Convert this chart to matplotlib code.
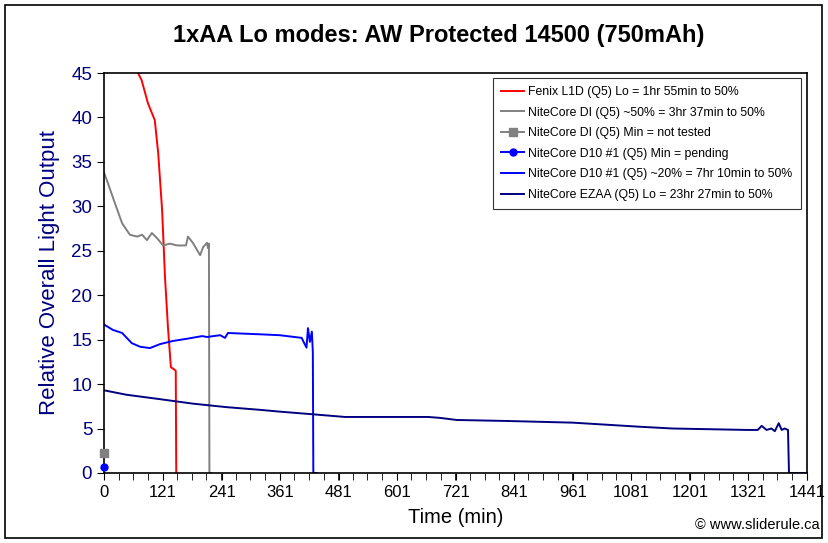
import matplotlib.pyplot as plt
from matplotlib.patches import Rectangle

plt.rcParams['font.family'] = ['Liberation Sans', 'DejaVu Sans']

# Fenix L1D (Q5) Lo
fenix_t = [67, 77, 90, 104, 111, 119, 125, 131, 137, 145, 147, 148]
fenix_y = [45.3, 44.2, 41.6, 39.7, 36.0, 29.6, 22.0, 16.4, 11.9, 11.6, 11.5, 0]

# NiteCore DI ~50%
di_t = [0, 8, 22, 37, 53, 68, 78, 88, 98, 109, 121, 135, 150, 168, 172, 182,
        197, 203, 211, 213, 215, 216, 220]
di_y = [33.8, 32.6, 30.4, 28.1, 26.8, 26.6, 26.8, 26.2, 27.0, 26.4, 25.6, 25.8,
        25.6, 25.6, 26.6, 25.9, 24.5, 25.4, 25.9, 25.3, 25.8, 0, 0]

# NiteCore DI Min (single point)
di_min_t = [0]
di_min_y = [2.3]

# NiteCore D10 #1 Min (single point)
d10_min_t = [0]
d10_min_y = [0.65]

# NiteCore D10 #1 ~20%
d10_t = [0, 18, 37, 57, 74, 94, 115, 141, 170, 201, 211, 238, 248, 254, 320,
         360, 405, 415, 418, 422, 426, 428, 429, 436]
d10_y = [16.7, 16.1, 15.75, 14.6, 14.2, 14.05, 14.5, 14.85, 15.1, 15.4, 15.3,
         15.5, 15.2, 15.75, 15.6, 15.5, 15.2, 14.1, 16.3, 14.75, 15.9, 13.6, 0, 0]

# NiteCore EZAA Lo
ezaa_t = [0, 46, 115, 182, 252, 320, 360, 428, 494, 664, 688, 723, 825, 961,
          1098, 1166, 1262, 1317, 1340, 1348, 1358, 1368, 1375, 1383, 1389,
          1395, 1402, 1404, 1441]
ezaa_y = [9.3, 8.8, 8.3, 7.8, 7.4, 7.1, 6.9, 6.6, 6.3, 6.3, 6.2, 5.96, 5.85,
          5.66, 5.2, 5.0, 4.9, 4.84, 4.84, 5.3, 4.84, 5.0, 4.7, 5.6, 4.84,
          5.0, 4.84, 0, 0]

labels = ['Fenix L1D (Q5) Lo = 1hr 55min to 50%',
          'NiteCore DI (Q5) ~50% = 3hr 37min to 50%',
          'NiteCore DI (Q5) Min = not tested',
          'NiteCore D10 #1 (Q5) Min = pending',
          'NiteCore D10 #1 (Q5) ~20% = 7hr 10min to 50%',
          'NiteCore EZAA (Q5) Lo = 23hr 27min to 50%']

xticks = [0, 121, 241, 361, 481, 601, 721, 841, 961, 1081, 1201, 1321, 1441]

fig = plt.figure(figsize=(8.29, 5.43), dpi=100)
ax = fig.add_axes([0.1255, 0.129, 0.848, 0.7365])

ax.plot(fenix_t, fenix_y, color='#FF0000', lw=1.4, label=labels[0])
ax.plot(di_t, di_y, color='#808080', lw=1.4, label=labels[1])
ax.plot(di_min_t, di_min_y, color='#808080', lw=1.4, marker='s', ms=6,
        label=labels[2], clip_on=False, zorder=5)
ax.plot(d10_min_t, d10_min_y, color='#0000FF', lw=1.4, marker='o', ms=5,
        label=labels[3], clip_on=False, zorder=5)
ax.plot(d10_t, d10_y, color='#0000FF', lw=1.4, label=labels[4])
ax.plot(ezaa_t, ezaa_y, color='#000080', lw=1.4, label=labels[5])

ax.set_xlim(0, 1441)
ax.set_ylim(0, 45)
ax.set_xticks(xticks)
ax.set_xticklabels([str(v) for v in xticks], fontsize=12)
ax.set_xticks(range(0, 1442, 30), minor=True)
ax.set_yticks(range(0, 46, 5))
ax.tick_params(axis='y', labelsize=13.5, labelcolor='#000080', direction='out',
               length=5)
ax.tick_params(axis='x', which='both', direction='out', length=5)
for s in ax.spines.values():
    s.set_linewidth(1.2)

ax.set_xlabel('Time (min)', fontsize=14.5, labelpad=6)
ax.set_ylabel('Relative Overall Light Output', fontsize=16, color='#000080',
              labelpad=8)
fig.text(0.529, 0.935, '1xAA Lo modes: AW Protected 14500 (750mAh)',
         ha='center', va='center', fontsize=17, fontweight='bold')
fig.text(0.989, 0.034, '\u00a9 www.sliderule.ca', ha='right', va='center',
         fontsize=10.5)

leg = ax.legend(loc='upper right', bbox_to_anchor=(1.0, 1.004), fontsize=8.8,
                frameon=True, fancybox=False, handlelength=1.9,
                labelspacing=0.7, borderpad=0.7, handletextpad=0.3)
leg.get_frame().set_edgecolor('black')
leg.get_frame().set_linewidth(0.8)

fig.patches.append(Rectangle((0.006, 0.01), 0.986, 0.98, transform=fig.transFigure,
                             fill=False, edgecolor='black', lw=1.2))

fig.savefig('out.png', dpi=100)
